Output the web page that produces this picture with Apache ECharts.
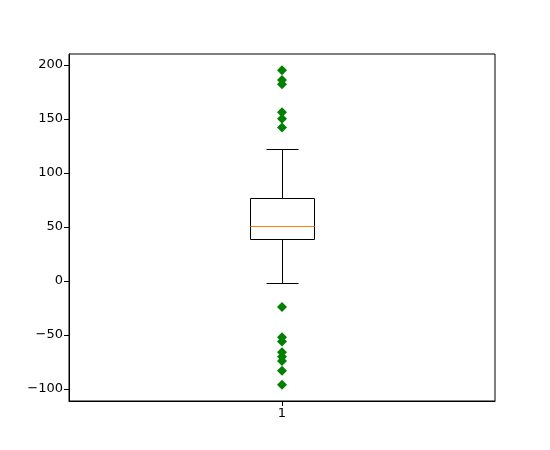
<!DOCTYPE html>
<html><head><meta charset="utf-8">
<script src="https://cdn.jsdelivr.net/npm/echarts@6/dist/echarts.min.js"></script>
<style>html,body{margin:0;padding:0;background:#fff}#c{width:550px;height:450px}</style>
</head><body><div id="c"></div>
<script>
var categories = ['1'];
var whiskerLow = [-2];
var q1 = [38];
var median = [50];
var q3 = [76];
var whiskerHigh = [122];
var fliers = [195, 186, 182, 156, 150, 142, -24, -52, -56, -66, -70, -74, -83, -96];
var yTicks = [-100, -50, 0, 50, 100, 150, 200];

var boxData = categories.map(function (c, i) {
  return [i, whiskerLow[i], q1[i], median[i], q3[i], whiskerHigh[i]];
});
var flierData = fliers.map(function (v) { return [0, v]; });

function px(v) { return Math.round(v - 0.5) + 0.5; }

var chart = echarts.init(document.getElementById('c'), null, {renderer: 'canvas'});
chart.setOption({
  animation: false,
  backgroundColor: '#fff',
  grid: {left: 69, right: 55, top: 54, bottom: 49, show: true, borderColor: '#000', borderWidth: 1, backgroundColor: 'transparent'},
  xAxis: {
    type: 'category', data: categories, boundaryGap: true,
    axisLine: {show: true, onZero: false, lineStyle: {color: '#000', width: 1}},
    axisTick: {show: true, alignWithLabel: true, length: 5, lineStyle: {color: '#000'}},
    axisLabel: {color: '#000', fontFamily: 'DejaVu Sans', fontSize: 13, margin: 6},
    splitLine: {show: false}
  },
  yAxis: {
    type: 'value', min: -111, max: 210,
    axisLine: {show: true, onZero: false, lineStyle: {color: '#000', width: 1}},
    axisTick: {show: true, length: 5, lineStyle: {color: '#000'}, customValues: yTicks},
    axisLabel: {color: '#000', fontFamily: 'DejaVu Sans', fontSize: 13, margin: 6, customValues: yTicks,
      formatter: function (v) { return v < 0 ? '\u2212' + Math.abs(v) : String(v); }},
    splitLine: {show: false}
  },
  series: [{
    type: 'custom',
    data: boxData,
    renderItem: function (params, api) {
      var x = api.value(0);
      var band = api.size([1, 0])[0];
      var half = band * 0.15 / 2;
      var capHalf = half / 2;
      var pLow = api.coord([x, api.value(1)]);
      var pQ1 = api.coord([x, api.value(2)]);
      var pMed = api.coord([x, api.value(3)]);
      var pQ3 = api.coord([x, api.value(4)]);
      var pHigh = api.coord([x, api.value(5)]);
      var cx = px(pQ1[0]);
      var yL = px(pLow[1]), y1 = px(pQ1[1]), yM = px(pMed[1]), y3 = px(pQ3[1]), yH = px(pHigh[1]);
      var xl = px(cx - half), xr = px(cx + half);
      var cl = px(cx - capHalf), cr = px(cx + capHalf);
      var blk = {stroke: '#000', lineWidth: 1, fill: null};
      return {type: 'group', children: [
        {type: 'line', shape: {x1: cx, y1: y1, x2: cx, y2: yL}, style: blk},
        {type: 'line', shape: {x1: cx, y1: y3, x2: cx, y2: yH}, style: blk},
        {type: 'line', shape: {x1: cl, y1: yL, x2: cr, y2: yL}, style: blk},
        {type: 'line', shape: {x1: cl, y1: yH, x2: cr, y2: yH}, style: blk},
        {type: 'rect', shape: {x: xl, y: y3, width: xr - xl, height: y1 - y3}, style: {stroke: '#000', lineWidth: 1, fill: 'none'}},
        {type: 'line', shape: {x1: xl, y1: yM, x2: xr, y2: yM}, style: {stroke: '#ff7f0e', lineWidth: 1}}
      ]};
    }
  }, {
    type: 'scatter',
    data: flierData,
    symbol: 'diamond',
    symbolSize: 10,
    itemStyle: {color: '#008000', opacity: 1}
  }]
});
</script></body></html>
